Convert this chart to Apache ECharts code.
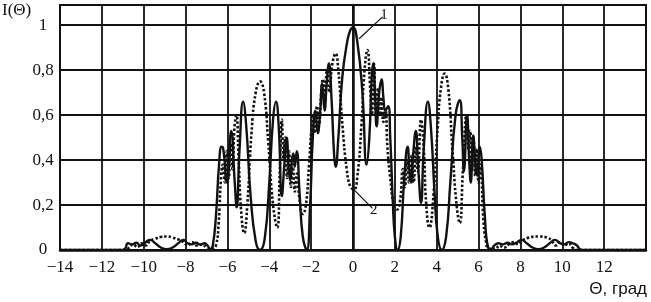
<!DOCTYPE html>
<html>
<head>
<meta charset="utf-8">
<script src="https://cdn.jsdelivr.net/npm/echarts@6/dist/echarts.min.js"></script>
<style>html,body{margin:0;padding:0;background:#fff;}#c{width:651px;height:302px;}</style>
</head>
<body>
<div id="c"></div>
<script>
// Curve 1 (solid)
const theta1 = [-14,-11.1,-10.9,-10.75,-10.55,-10.35,-10.15,-9.9,-9.7,-9.45,-9.2,-8.9,-8.6,-8.35,-8.1,-7.9,-7.7,-7.5,-7.3,-7.1,-6.95,-6.82,-6.7,-6.55,-6.4,-6.28,-6.2,-6.02,-5.82,-5.65,-5.56,-5.42,-5.25,-5.1,-4.9,-4.65,-4.44,-4.22,-4.0,-3.82,-3.68,-3.55,-3.4,-3.28,-3.17,-3.07,-3.0,-2.92,-2.85,-2.78,-2.69,-2.55,-2.4,-2.21,-2.05,-1.92,-1.8,-1.68,-1.58,-1.47,-1.36,-1.25,-1.15,-1.03,-0.9,-0.83,-0.7,-0.51,-0.27,-0.12,0,0.2,0.45,0.65,0.78,0.9,0.97,1.05,1.13,1.25,1.37,1.45,1.55,1.68,1.78,1.9,2.0,2.13,2.28,2.45,2.61,2.7,2.77,2.87,3.0,3.12,3.25,3.38,3.58,3.72,3.9,4.05,4.24,4.45,4.65,4.9,5.1,5.22,5.3,5.45,5.55,5.63,5.74,5.85,5.93,6.06,6.15,6.3,6.46,6.6,6.75,6.95,7.15,7.4,7.6,7.8,8.05,8.3,8.6,8.85,9.15,9.4,9.65,9.9,10.1,10.3,10.5,10.7,10.85,11.0,14];
const intensity1 = [0,0,0.005,0.03,0.025,0.032,0.02,0.035,0.045,0.03,0.012,0.004,0.012,0.03,0.045,0.03,0.025,0.032,0.024,0.03,0.02,0.003,0.02,0.15,0.38,0.46,0.45,0.3,0.53,0.3,0.19,0.45,0.66,0.55,0.25,0.04,0.0,0.05,0.3,0.58,0.66,0.55,0.24,0.38,0.5,0.36,0.31,0.4,0.43,0.37,0.44,0.25,0.06,0.0,0.2,0.5,0.62,0.52,0.6,0.74,0.62,0.75,0.83,0.68,0.42,0.37,0.5,0.77,0.93,0.98,0.99,0.93,0.7,0.38,0.5,0.78,0.83,0.7,0.55,0.7,0.76,0.68,0.62,0.64,0.5,0.22,0.06,0.0,0.06,0.32,0.46,0.35,0.3,0.42,0.53,0.36,0.21,0.45,0.66,0.55,0.25,0.06,0.0,0.06,0.3,0.6,0.667,0.5,0.35,0.6,0.4,0.3,0.51,0.38,0.33,0.46,0.4,0.15,0.01,0.005,0.02,0.03,0.025,0.032,0.025,0.032,0.045,0.03,0.01,0.004,0.012,0.03,0.045,0.03,0.025,0.035,0.03,0.02,0.003,0,0];
// Curve 2 (dotted)
const theta2 = [-14,-10.9,-10.7,-10.5,-10.3,-10.1,-9.9,-9.7,-9.45,-9.2,-8.9,-8.6,-8.3,-8.1,-7.9,-7.7,-7.45,-7.2,-7.0,-6.8,-6.55,-6.42,-6.32,-6.22,-6.12,-6.03,-5.94,-5.85,-5.76,-5.66,-5.57,-5.47,-5.35,-5.2,-5.05,-4.85,-4.65,-4.44,-4.25,-4.05,-3.82,-3.62,-3.5,-3.4,-3.32,-3.24,-3.15,-3.06,-2.97,-2.88,-2.78,-2.68,-2.55,-2.4,-2.25,-2.1,-2.0,-1.9,-1.82,-1.72,-1.62,-1.52,-1.44,-1.35,-1.24,-1.12,-1.0,-0.83,-0.7,-0.5,-0.3,-0.12,0.05,0.2,0.4,0.55,0.69,0.82,0.9,1.0,1.1,1.2,1.28,1.36,1.45,1.55,1.65,1.78,1.95,2.1,2.25,2.38,2.48,2.58,2.68,2.8,2.9,3.0,3.1,3.25,3.38,3.5,3.65,3.85,4.05,4.2,4.38,4.55,4.75,4.95,5.1,5.25,5.42,5.52,5.6,5.68,5.76,5.84,5.92,6.0,6.1,6.22,6.35,6.5,6.8,7.0,7.2,7.45,7.7,7.9,8.06,8.4,8.86,9.3,9.5,9.7,9.9,10.1,10.3,10.5,10.7,14];
const intensity2 = [0,0,0.01,0.025,0.012,0.03,0.02,0.04,0.05,0.058,0.06,0.055,0.045,0.035,0.02,0.035,0.02,0.025,0.01,0.005,0.02,0.12,0.3,0.38,0.3,0.44,0.32,0.48,0.36,0.55,0.6,0.42,0.18,0.075,0.2,0.52,0.7,0.75,0.7,0.48,0.2,0.1,0.35,0.58,0.4,0.5,0.32,0.44,0.28,0.38,0.26,0.34,0.22,0.16,0.2,0.38,0.52,0.6,0.52,0.64,0.56,0.7,0.76,0.66,0.8,0.7,0.82,0.874,0.8,0.55,0.36,0.28,0.27,0.32,0.55,0.8,0.89,0.72,0.6,0.83,0.6,0.72,0.6,0.68,0.57,0.62,0.45,0.32,0.2,0.18,0.22,0.36,0.28,0.4,0.3,0.42,0.3,0.46,0.35,0.58,0.45,0.2,0.1,0.25,0.55,0.72,0.785,0.72,0.45,0.2,0.12,0.35,0.6,0.45,0.53,0.35,0.5,0.33,0.45,0.3,0.38,0.15,0.04,0.005,0.005,0.02,0.01,0.025,0.035,0.025,0.04,0.055,0.06,0.055,0.04,0.02,0.035,0.02,0.03,0.01,0,0];
// Axis ticks
const xTicks = [-14,-12,-10,-8,-6,-4,-2,0,2,4,6,8,10,12];
const yTicks = [0,0.2,0.4,0.6,0.8,1];

const pair = (xs, ys) => xs.map((x, i) => [x, ys[i]]);
const chart = echarts.init(document.getElementById('c'), null, {renderer: 'canvas'});
const serif = '"Liberation Serif", "Times New Roman", serif';
chart.setOption({
  animation: false,
  grid: {left: 60, right: 5, top: 5, bottom: 52, show: true, borderColor: '#111', borderWidth: 2},
  xAxis: {
    type: 'value', min: -14, max: 14, interval: 2,
    axisLine: {show: true, onZero: false, lineStyle: {color: '#111', width: 2.5}},
    axisTick: {show: false},
    splitLine: {show: true, lineStyle: {color: '#111', width: 1.8}},
    axisLabel: {
      margin: 9, color: '#111', fontFamily: serif, fontSize: 17,
      formatter: v => xTicks.indexOf(v) >= 0 ? String(v).replace('-', '\u2212') : ''
    }
  },
  yAxis: {
    type: 'value', min: 0, max: 1.09, interval: 0.2,
    axisLine: {show: true, lineStyle: {color: '#111', width: 2.5}},
    axisTick: {show: false},
    splitLine: {show: true, lineStyle: {color: '#111', width: 1.8}},
    axisLabel: {
      margin: 17, align: 'center', color: '#111', fontFamily: serif, fontSize: 17,
      formatter: v => {
        const t = yTicks.find(t => Math.abs(t - v) < 1e-6);
        return t === undefined ? '' : String(t).replace('.', ',');
      }
    }
  },
  series: [
    {
      type: 'line', name: '1', data: pair(theta1, intensity1), showSymbol: false,
      smooth: 0.5,
      lineStyle: {color: '#111', width: 2.4}, z: 3,
      markLine: {
        silent: true, symbol: 'none',
        lineStyle: {color: '#111', width: 1.2, type: 'solid'},
        label: {show: true, position: 'end', formatter: '1', color: '#111', fontFamily: serif, fontSize: 15, distance: 2},
        data: [[{coord: [0.29, 0.94]}, {coord: [1.41, 1.037]}]]
      }
    },
    {
      type: 'line', name: '2', data: pair(theta2, intensity2), showSymbol: false,
      smooth: 0.5,
      lineStyle: {color: '#111', width: 2.6, type: [2.5, 2]}, z: 2,
      markLine: {
        silent: true, symbol: 'none',
        lineStyle: {color: '#111', width: 1.2, type: 'solid'},
        label: {show: true, position: 'end', formatter: '2', color: '#111', fontFamily: serif, fontSize: 15, distance: 2},
        data: [[{coord: [-0.03, 0.275]}, {coord: [0.93, 0.185]}]]
      }
    }
  ],
  graphic: [
    {type: 'text', left: 2, top: 2, style: {text: 'I(\u0398)', fontFamily: serif, fontSize: 17, fill: '#111'}},
    {type: 'text', right: 4, top: 281, style: {text: '\u0398, град', fontFamily: '"Liberation Sans", Arial, sans-serif', fontSize: 17, fill: '#111'}}
  ]
});
</script>
</body>
</html>
